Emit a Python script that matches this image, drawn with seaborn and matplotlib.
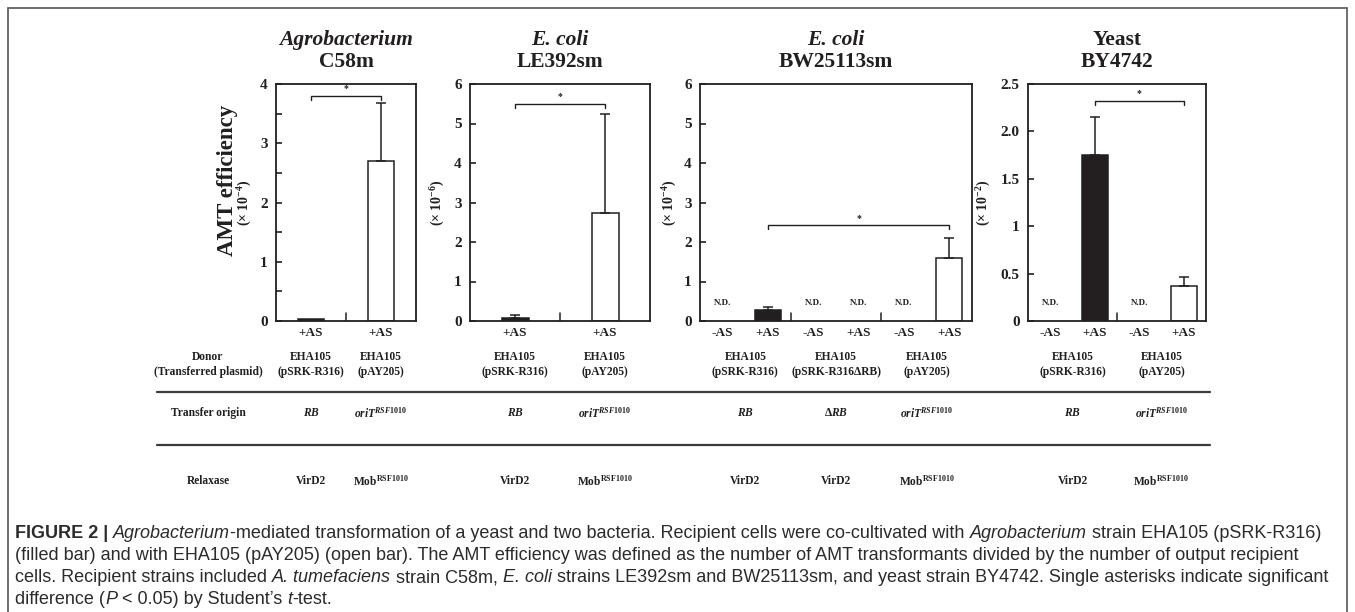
import numpy as np
import pandas as pd
import matplotlib
matplotlib.use("Agg")
import matplotlib.pyplot as plt
import matplotlib.transforms as mtransforms
from matplotlib.lines import Line2D
from matplotlib.patches import Rectangle
import seaborn as sns

# ---- data ----
titles = [("Agrobacterium", "C58m"), ("E. coli", "LE392sm"),
          ("E. coli", "BW25113sm"), ("Yeast", "BY4742")]
title_italic = [True, True, True, False]
exponents = ["-4", "-6", "-4", "-2"]
y_max = [4, 6, 6, 2.5]

c58_as = ["+AS", "+AS"]
c58_donor = ["pSRK-R316", "pAY205"]
c58_val = [0.03, 2.70]
c58_err = [np.nan, 3.68]

le392_as = ["+AS", "+AS"]
le392_donor = ["pSRK-R316", "pAY205"]
le392_val = [0.07, 2.73]
le392_err = [0.15, 5.25]

bw_as = ["-AS", "+AS", "-AS", "+AS", "-AS", "+AS"]
bw_donor = ["pSRK-R316", "pSRK-R316", "pSRK-R316ΔRB", "pSRK-R316ΔRB", "pAY205", "pAY205"]
bw_val = [np.nan, 0.27, np.nan, np.nan, np.nan, 1.60]
bw_err = [np.nan, 0.35, np.nan, np.nan, np.nan, 2.10]

by_as = ["-AS", "+AS", "-AS", "+AS"]
by_donor = ["pSRK-R316", "pSRK-R316", "pAY205", "pAY205"]
by_val = [np.nan, 1.75, np.nan, 0.37]
by_err = [np.nan, 2.15, np.nan, 0.46]

# significance brackets: (slot a, slot b, height)
c58_sig = (0, 1, 3.80)
le392_sig = (0, 1, 5.50)
bw_sig = (1, 5, 2.42)
by_sig = (1, 3, 2.32)

# table columns
c58_groups = [("EHA105", "(pSRK-R316)"), ("EHA105", "(pAY205)")]
le392_groups = [("EHA105", "(pSRK-R316)"), ("EHA105", "(pAY205)")]
bw_groups = [("EHA105", "(pSRK-R316)"), ("EHA105", "(pSRK-R316ΔRB)"), ("EHA105", "(pAY205)")]
by_groups = [("EHA105", "(pSRK-R316)"), ("EHA105", "(pAY205)")]

ORI = r"$\mathit{oriT}^{\!\mathit{RSF1010}}$"
MOB = r"$\mathrm{Mob}^{\mathrm{RSF1010}}$"
c58_origin = [r"$\mathit{RB}$", ORI]
le392_origin = [r"$\mathit{RB}$", ORI]
bw_origin = [r"$\mathit{RB}$", r"$\mathit{ΔRB}$", ORI]
by_origin = [r"$\mathit{RB}$", ORI]

c58_relax = ["VirD2", MOB]
le392_relax = ["VirD2", MOB]
bw_relax = ["VirD2", "VirD2", MOB]
by_relax = ["VirD2", MOB]

by_ticklabels = ["0", "0.5", "1", "1.5", "2.0", "2.5"]

panels = [
    (c58_as, c58_donor, c58_val, c58_err, c58_sig, c58_groups, c58_origin, c58_relax),
    (le392_as, le392_donor, le392_val, le392_err, le392_sig, le392_groups, le392_origin, le392_relax),
    (bw_as, bw_donor, bw_val, bw_err, bw_sig, bw_groups, bw_origin, bw_relax),
    (by_as, by_donor, by_val, by_err, by_sig, by_groups, by_origin, by_relax),
]

# ---- style ----
sns.set_theme(style="ticks")
ink = "#231f20"
plt.rcParams["font.family"] = ["Liberation Serif", "DejaVu Serif"]
plt.rcParams["font.weight"] = "bold"
plt.rcParams["mathtext.fontset"] = "custom"
plt.rcParams["mathtext.rm"] = "Liberation Serif:bold"
plt.rcParams["mathtext.it"] = "Liberation Serif:italic:bold"
plt.rcParams["mathtext.bf"] = "Liberation Serif:bold"
plt.rcParams["text.color"] = ink
plt.rcParams["axes.edgecolor"] = ink
plt.rcParams["xtick.color"] = ink
plt.rcParams["ytick.color"] = ink

W, H = 1355, 612
fig = plt.figure(figsize=(W / 100, H / 100), dpi=100)
fig.patch.set_facecolor("white")


def fx(x):
    return x / W


def fy(y):
    return 1 - y / H


# pixel layout of the four plot boxes
panel_px = [(276, 416), (470, 650), (700, 972), (1028, 1206)]
label_off = [31, 32, 30, 44]
top_px, bot_px = 84, 321
bar_w = [0.36, 0.30, 0.58, 0.58]
palette = {"pSRK-R316": ink, "pSRK-R316ΔRB": ink, "pAY205": "white"}
tsize = 8.3

for i, (as_lab, donor, val, err, sig, groups, origin, relax) in enumerate(panels):
    x0, x1 = panel_px[i]
    ax = fig.add_axes([fx(x0), fy(bot_px), fx(x1 - x0), (bot_px - top_px) / H])
    n = len(as_lab)
    slots = [f"s{k}" for k in range(n)]
    df = pd.DataFrame({"slot": slots, "donor": donor, "value": val, "err": err})
    shown = df.dropna(subset=["value"])
    sns.barplot(data=shown, x="slot", y="value", hue="donor", order=slots,
                palette=palette, dodge=False, width=bar_w[i], saturation=1,
                edgecolor=ink, linewidth=1.1, errorbar=None, legend=False, ax=ax)
    ax.set_xlim(-0.5, n - 0.5)
    ym = y_max[i]
    ax.set_ylim(0, ym)
    ax.set_xlabel("")
    ax.set_ylabel("")

    # upper error bars
    eb = df.dropna(subset=["err"])
    idx = [slots.index(s) for s in eb["slot"]]
    ax.errorbar(idx, eb["value"], yerr=[np.zeros(len(eb)), eb["err"] - eb["value"]],
                fmt="none", ecolor=ink, elinewidth=1.1, capsize=3.5, capthick=1.1)

    # N.D. marks
    for k in range(n):
        if np.isnan(val[k]):
            ax.text(k, ym * 0.077, "N.D.", ha="center", va="center", fontsize=6.5)

    # significance bracket
    a, b, h = sig
    d = ym * 0.017
    ax.plot([a, a, b, b], [h - d, h, h, h - d], color=ink, lw=1.0, clip_on=False)
    ax.text((a + b) / 2, h + ym * 0.012, "*", ha="center", va="bottom", fontsize=7)

    # group separators on the baseline
    per = n // len(groups)
    trans = mtransforms.blended_transform_factory(ax.transData, ax.transAxes)
    for g in range(1, len(groups)):
        xs = g * per - 0.5
        ax.plot([xs, xs], [0, 0.032], color=ink, lw=1.1, transform=trans)

    # spines and ticks
    for sp in ax.spines.values():
        sp.set_visible(True)
        sp.set_linewidth(1.3)
        sp.set_color(ink)
    ax.set_xticks(range(n))
    ax.set_xticklabels(as_lab)
    ax.tick_params(axis="x", length=0, pad=4, labelsize=9.5)
    if i == 0:
        ax.set_yticks([0, 1, 2, 3, 4])
        ax.set_yticks(np.arange(0.5, 4, 1.0), minor=True)
    elif i == 3:
        ax.set_yticks(np.arange(0, 2.51, 0.5))
        ax.set_yticklabels(by_ticklabels)
    else:
        ax.set_yticks(range(0, 7))
    ax.tick_params(axis="y", which="both", direction="in", length=4.5, width=1.2,
                   pad=6, labelsize=11)
    ax.set_facecolor("white")
    ax.grid(False)

    # titles
    cx = fx((x0 + x1) / 2)
    fig.text(cx, fy(40), titles[i][0], ha="center", va="center", fontsize=15.5,
             style="italic" if title_italic[i] else "normal")
    fig.text(cx, fy(62), titles[i][1], ha="center", va="center", fontsize=15.5)

    # exponent label
    fig.text(fx(x0 - label_off[i]), fy(203), "(× 10$^{" + exponents[i] + "}$)", rotation=90,
             ha="center", va="center", fontsize=10)

    # table cells
    tblend = mtransforms.blended_transform_factory(ax.transData, fig.transFigure)
    for g in range(len(groups)):
        gc = g * per + (per - 1) / 2
        fig.text(gc, fy(357), groups[g][0], transform=tblend, ha="center", va="center",
                 fontsize=tsize)
        fig.text(gc, fy(372), groups[g][1], transform=tblend, ha="center", va="center",
                 fontsize=tsize)
        fig.text(gc, fy(413), origin[g], transform=tblend, ha="center", va="center",
                 fontsize=tsize)
        fig.text(gc, fy(481), relax[g], transform=tblend, ha="center", va="center",
                 fontsize=tsize)

fig.text(fx(227), fy(180), "AMT efficiency", rotation=90, ha="center", va="center",
         fontsize=16.5)

# row headers
fig.text(fx(208), fy(357), "Donor", ha="center", va="center", fontsize=tsize)
fig.text(fx(208), fy(372), "(Transferred plasmid)", ha="center", va="center", fontsize=tsize)
fig.text(fx(208), fy(413), "Transfer origin", ha="center", va="center", fontsize=tsize)
fig.text(fx(208), fy(481), "Relaxase", ha="center", va="center", fontsize=tsize)

for yl in [392, 445]:
    fig.add_artist(Line2D([fx(157), fx(1210)], [fy(yl), fy(yl)], color="#3a3a3a", lw=1.6))

# outer frame
fig.add_artist(Rectangle((fx(8), fy(640)), fx(1347 - 8), (640 - 8) / H, fill=False,
                         edgecolor="#555555", lw=1.2, transform=fig.transFigure,
                         clip_on=True))

# caption
cap_font = ["Liberation Sans", "DejaVu Sans"]
cap_size = 13.0
cap_color = "#2b2b2b"
caption_lines = [
    [("FIGURE 2 | ", "normal", "bold"), ("Agrobacterium", "italic", "normal"),
     ("-mediated transformation of a yeast and two bacteria. Recipient cells were co-cultivated with ", "normal", "normal"),
     ("Agrobacterium", "italic", "normal"), (" strain EHA105 (pSRK-R316)", "normal", "normal")],
    [("(filled bar) and with EHA105 (pAY205) (open bar). The AMT efficiency was defined as the number of AMT transformants divided by the number of output recipient", "normal", "normal")],
    [("cells. Recipient strains included ", "normal", "normal"), ("A. tumefaciens", "italic", "normal"),
     (" strain C58m, ", "normal", "normal"), ("E. coli", "italic", "normal"),
     (" strains LE392sm and BW25113sm, and yeast strain BY4742. Single asterisks indicate significant", "normal", "normal")],
    [("difference (", "normal", "normal"), ("P", "italic", "normal"), (" < 0.05) by Student’s ", "normal", "normal"),
     ("t", "italic", "normal"), ("-test.", "normal", "normal")],
]
caption_y = [534, 556, 578, 600]

renderer = fig.canvas.get_renderer()
for line, yc in zip(caption_lines, caption_y):
    xc = fx(15)
    for txt, st, wt in line:
        t = fig.text(xc, fy(yc), txt, family=cap_font, style=st, weight=wt,
                     fontsize=cap_size, color=cap_color, ha="left", va="center")
        xc += t.get_window_extent(renderer).width / fig.bbox.width

fig.savefig("out.png", dpi=100, facecolor="white")
